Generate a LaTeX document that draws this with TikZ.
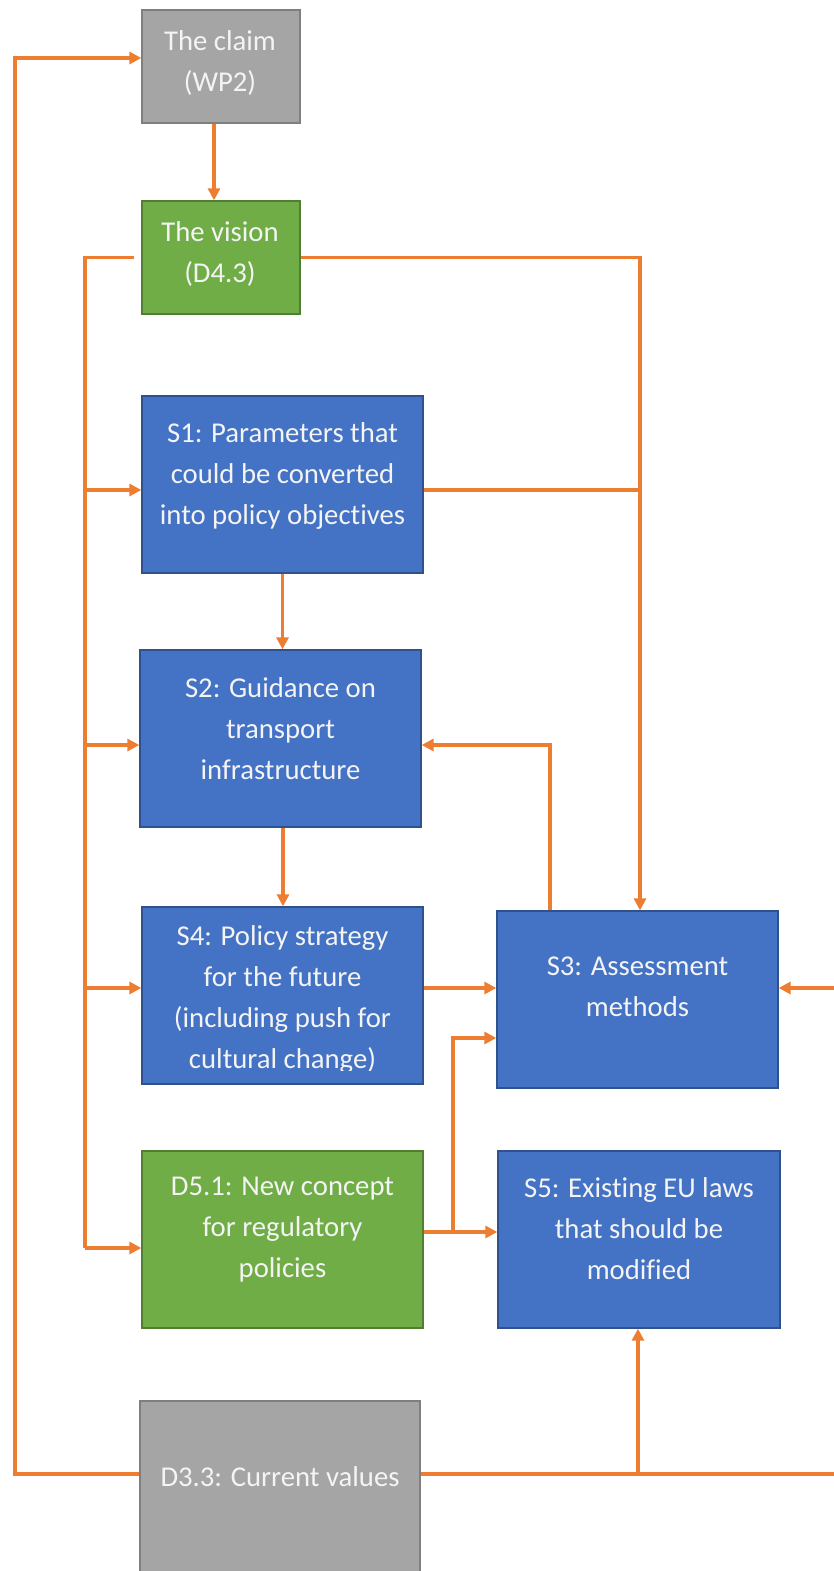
\documentclass[tikz,border=0pt]{standalone}
\usepackage{fontspec}
\setmainfont{Carlito}[Ligatures=NoCommon]
\usetikzlibrary{arrows.meta}
\definecolor{orng}{HTML}{ED7D31}
\definecolor{bluef}{HTML}{4472C4}
\definecolor{blued}{HTML}{2F528F}
\definecolor{greenf}{HTML}{70AD47}
\definecolor{greend}{HTML}{507E32}
\definecolor{grayf}{HTML}{A5A5A5}
\definecolor{grayd}{HTML}{7F7F7F}
\definecolor{txt}{HTML}{F4F4F4}
\tikzset{
  box/.style={rectangle, line width=1.3pt, inner sep=0pt},
  bluebox/.style={box, fill=bluef, draw=blued},
  greenbox/.style={box, fill=greenf, draw=greend},
  graybox/.style={box, fill=grayf, draw=grayd},
  lbl/.style={text=txt, align=center, inner sep=0pt, font=\fontsize{28.7}{41}\selectfont},
  wire/.style={draw=orng, line width=3.2pt},
  conn/.style={wire, -{Triangle[length=12pt,width=12pt]}}
}
\begin{document}
\begin{tikzpicture}[x=1pt,y=-1pt]
\fill[white] (0,0) rectangle (833,1571);
\useasboundingbox (0,0) rectangle (833,1571);

% boxes
\node[graybox, minimum width=158pt, minimum height=113pt] (claim) at (221,66.5) {};
\node[greenbox, minimum width=158pt, minimum height=113pt] (vision) at (221,257.5) {};
\node[bluebox, minimum width=281pt, minimum height=177pt] (s1) at (282.5,484.5) {};
\node[bluebox, minimum width=281pt, minimum height=177pt] (s2) at (280.5,738.5) {};
\node[bluebox, minimum width=281pt, minimum height=177pt] (s4) at (282.5,995.5) {};
\node[greenbox, minimum width=281pt, minimum height=177pt] (d51) at (282.5,1239.5) {};
\node[bluebox, minimum width=281pt, minimum height=177pt] (s3) at (637.5,999.5) {};
\node[bluebox, minimum width=282pt, minimum height=177pt] (s5) at (639,1239.5) {};
\node[graybox, minimum width=280pt, minimum height=219pt] (d33) at (280,1510.5) {};

% texts
\node[lbl] (claimt) at (220,63) {The claim\\(WP2)};
\node[lbl] (visiont) at (220,254) {The vision\\(D4.3)};
\node[lbl] (s1t) at (282.5,475.5) {S1: Parameters that\\could be converted\\into policy objectives};
\node[lbl] (s2t) at (280.5,729) {S2: Guidance on\\transport\\infrastructure};
\begin{scope}
\clip (142,907) rectangle (423,1070);
\node[lbl] (s4t) at (282.5,999.5) {S4: Policy strategy\\for the future\\(including push for\\cultural change)};
\end{scope}
\node[lbl] (d51t) at (282.5,1229.5) {D5.1: New concept\\for regulatory\\policies};
\node[lbl] (s3t) at (637.5,987) {S3: Assessment\\methods};
\node[lbl] (s5t) at (639,1229) {S5: Existing EU laws\\that should be\\modified};
\node[lbl] (d33t) at (280,1477) {D3.3: Current values};

% free ends beyond the right edge
\coordinate (r1) at (850,988);
\coordinate (r2) at (850,1474);

% connectors
\draw[conn] ([xshift=-7pt]claim.south) -- ([xshift=-7pt]vision.north);
\draw[wire] ([xshift=-7pt]vision.west) -- (85,257.5) -- (85,1248);
\draw[conn] (85,1248) -- (d51.west |- 0,1248);
\draw[conn] (85,490) -- (s1.west |- 0,490);
\draw[conn] (85,745) -- (s2.west |- 0,745);
\draw[conn] (85,988) -- (s4.west |- 0,988);
\draw[conn] (vision.east) -| (s3.north -| 640,0);
\draw[wire] (s1.east |- 0,490) -- (640,490);
\draw[conn] (s1.south) -- (s1.south |- s2.north);
\draw[conn] (s2.south -| 283,0) -- (s4.north -| 283,0);
\draw[conn] (s3.north -| 550,0) |- (s2.east |- 0,745);
\draw[conn] (s4.east |- 0,988) -- (s3.west |- 0,988);
\draw[conn] (r1) -- (s3.east |- 0,988);
\draw[conn] (d51.east |- 0,1232) -- (s5.west |- 0,1232);
\draw[conn] (453,1232) |- (s3.west |- 0,1038);
\draw[wire] (d33.east |- 0,1474) -- (r2);
\draw[conn] (638,1474) -- (s5.south -| 638,0);
\draw[conn] (d33.west |- 0,1474) -| (15,58) -- (claim.west |- 0,58);
\end{tikzpicture}
\end{document}
